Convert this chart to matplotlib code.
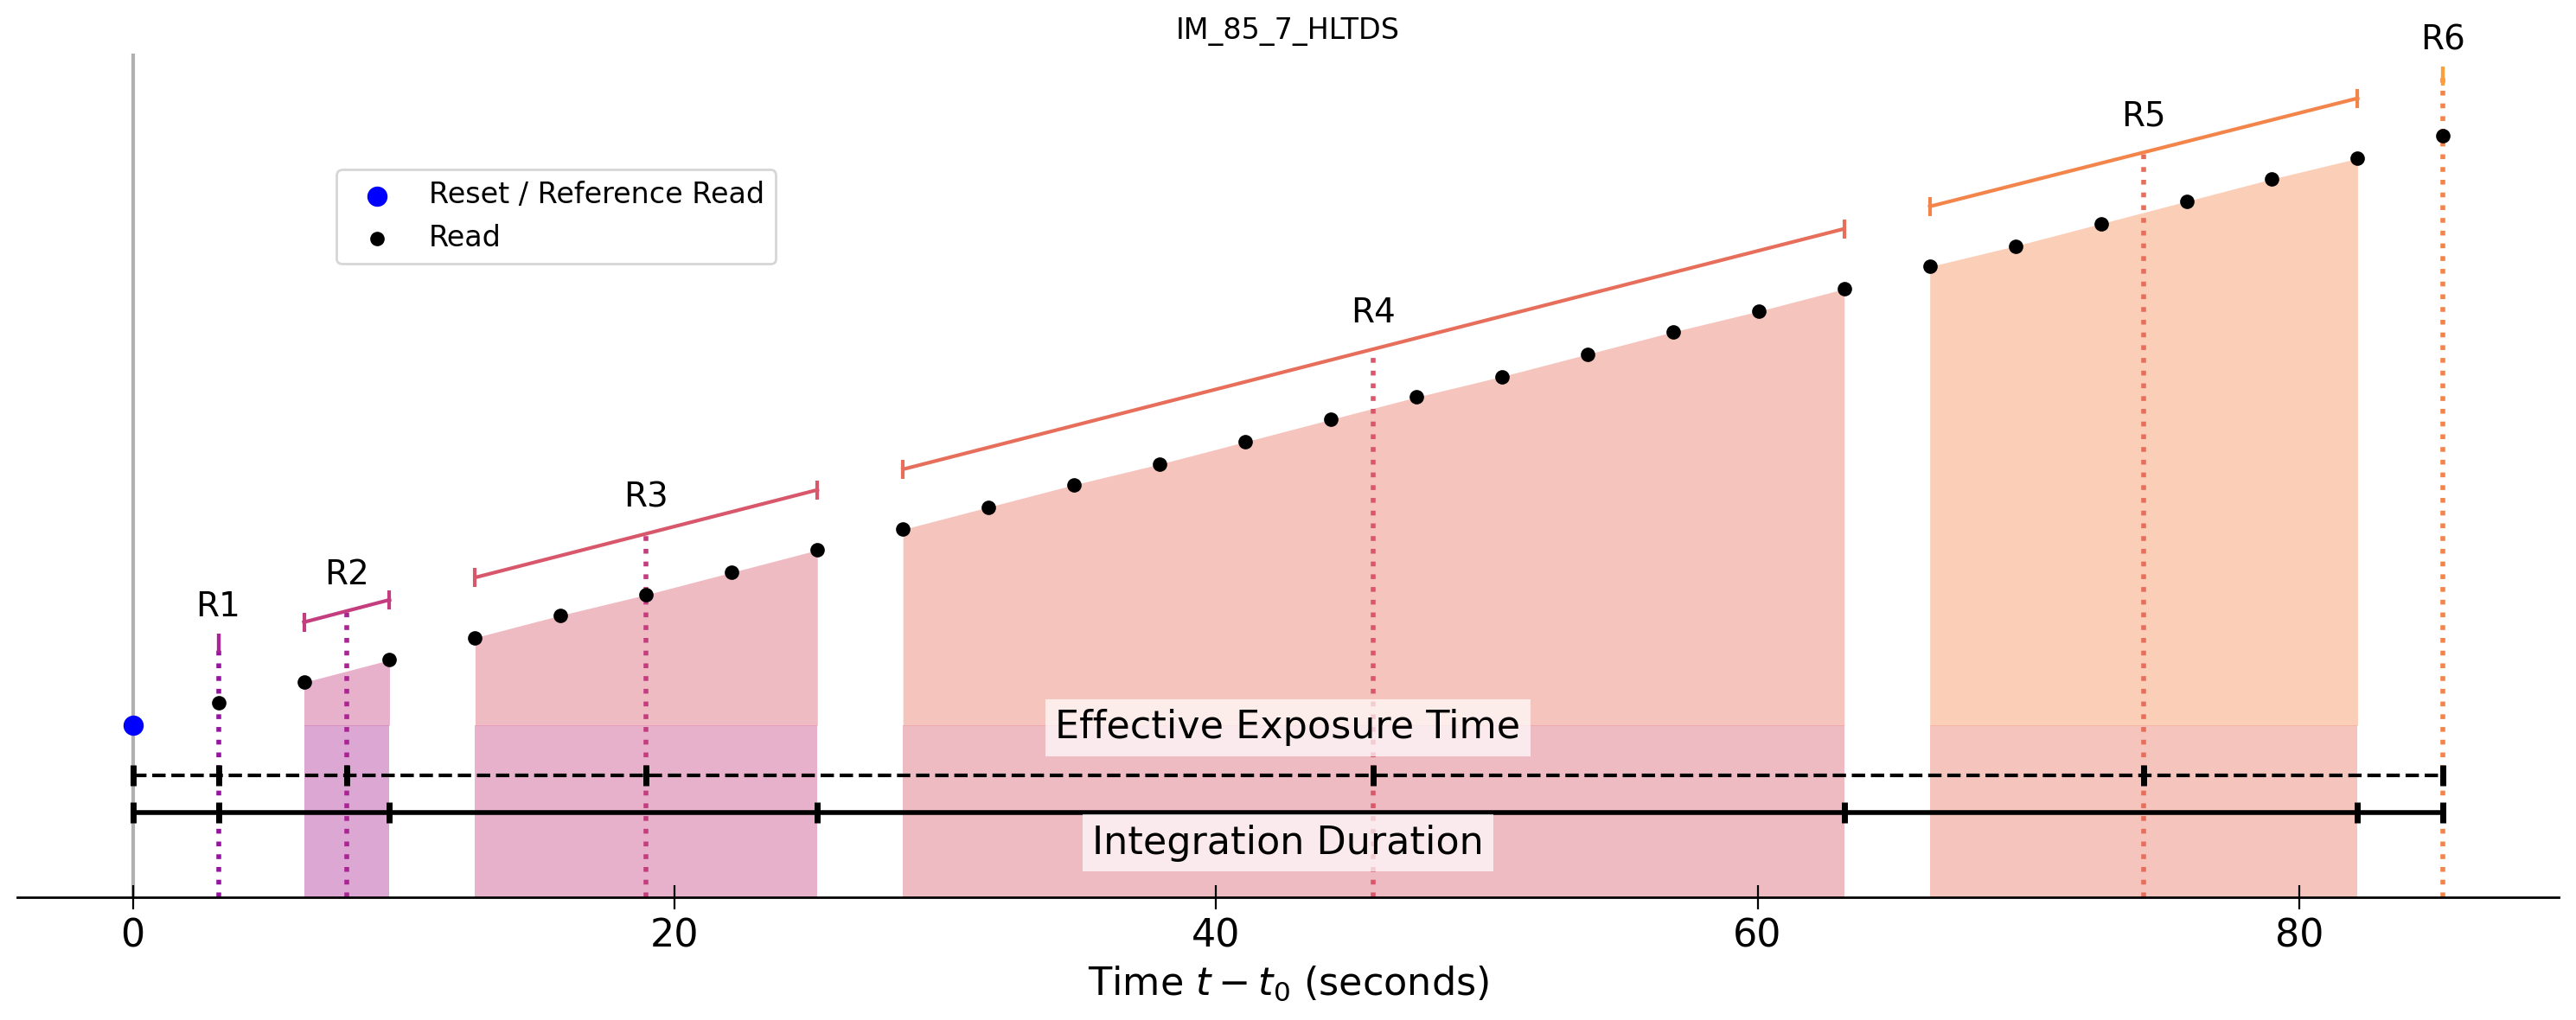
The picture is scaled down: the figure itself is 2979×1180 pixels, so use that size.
# MultiAccum read pattern plot for IM_85_7_HLTDS
import matplotlib
matplotlib.use('Agg')
import matplotlib.pyplot as plt
import numpy as np

# data
table_name = 'IM_85_7_HLTDS'
read_times = [3.16, 6.32, 9.48, 12.64, 15.80, 18.96, 22.12, 25.28, 28.44,
              31.60, 34.76, 37.92, 41.08, 44.24, 47.40, 50.56, 53.72, 56.88,
              60.04, 63.20, 66.36, 69.52, 72.68, 75.84, 79.00, 82.16, 85.32]
read_values = [1.13, 1.25, 1.38, 1.51, 1.64, 1.76, 1.89, 2.02, 2.14,
               2.27, 2.40, 2.52, 2.65, 2.78, 2.91, 3.03, 3.16, 3.29,
               3.41, 3.54, 3.67, 3.79, 3.92, 4.05, 4.18, 4.30, 4.43]
reads_per_resultant = [1, 2, 5, 12, 6, 1]
resultant_labels = ['R1', 'R2', 'R3', 'R4', 'R5', 'R6']
reset_time = 0.0
reset_value = 1.0

# levels used for the annotation bars
offset = 0.35
label_offset = 0.21
eff_level = 0.71
int_level = 0.49

t = np.array(read_times)
y = np.array(read_values)
n = len(reads_per_resultant)
colors = plt.cm.plasma([0.32, 0.38, 0.47, 0.555, 0.63, 0.705, 0.78])

fig = plt.figure(figsize=(2979/200, 1180/200), dpi=200)
ax = fig.add_axes([20/2979, 1 - 1037.7/1180, 2939/2979, 975.7/1180])

ax.axvline(reset_time, color='#b0b0b0', lw=1.5, zorder=0)

start = 0
mean_times = []
end_times = []
for i in range(n):
    k = reads_per_resultant[i]
    tt = t[start:start + k]
    yy = y[start:start + k]
    start += k
    tm = tt.mean()
    ym = yy.mean()
    mean_times.append(tm)
    end_times.append(tt[-1])

    # shaded areas
    ax.fill_between(tt, reset_value, yy, color=colors[i + 1], alpha=0.4, lw=0, zorder=1)
    ax.fill_between(tt, 0, reset_value, color=colors[i], alpha=0.4, lw=0, zorder=1)

    # span of the resultant
    ax.plot([tt[0], tt[-1]], [yy[0] + offset, yy[-1] + offset], color=colors[i + 1],
            lw=1.5, marker='|', ms=8, mew=1.5, zorder=3)
    # mean time
    ax.plot([tm, tm], [0, ym + offset], color=colors[i], ls=':', lw=2, zorder=2)
    ax.text(tm, ym + offset + label_offset, resultant_labels[i], fontsize=14,
            ha='center', va='center')

total = t[-1]
ax.plot([reset_time] + mean_times, [eff_level] * (n + 1), 'k--', lw=1.5,
        marker='|', ms=8.5, mew=2.5, zorder=4)
ax.plot([reset_time] + end_times, [int_level] * (n + 1), 'k-', lw=2,
        marker='|', ms=8.5, mew=2.5, zorder=4)
ax.text(total / 2, 0.985, 'Effective Exposure Time', fontsize=16, ha='center', va='center',
        bbox=dict(facecolor='white', alpha=0.7, edgecolor='none'), zorder=6)
ax.text(total / 2, 0.315, 'Integration Duration', fontsize=16, ha='center', va='center',
        bbox=dict(facecolor='white', alpha=0.7, edgecolor='none'), zorder=6)

# reads
ax.scatter([reset_time], [reset_value], s=55, color='blue', label='Reset / Reference Read', zorder=5)
ax.scatter(t, y, s=25, color='black', label='Read', zorder=5)

# axes
ax.set_xlim(-0.05 * total, 1.05 * total)
ax.set_ylim(0, 4.91)
ax.set_yticks([])
for side in ['left', 'top', 'right']:
    ax.spines[side].set_visible(False)
ax.spines['bottom'].set_linewidth(1.0)
ax.tick_params(axis='x', direction='inout', length=10, labelsize=16)
ax.set_xlabel('Time $t - t_0$ (seconds)', fontsize=16)
ax.set_title(table_name, fontsize=12)

# legend
ax.legend(loc='upper left', bbox_to_anchor=(0.1256, 0.8627), borderaxespad=0, fontsize=12)

fig.savefig('out.png', dpi=200)
